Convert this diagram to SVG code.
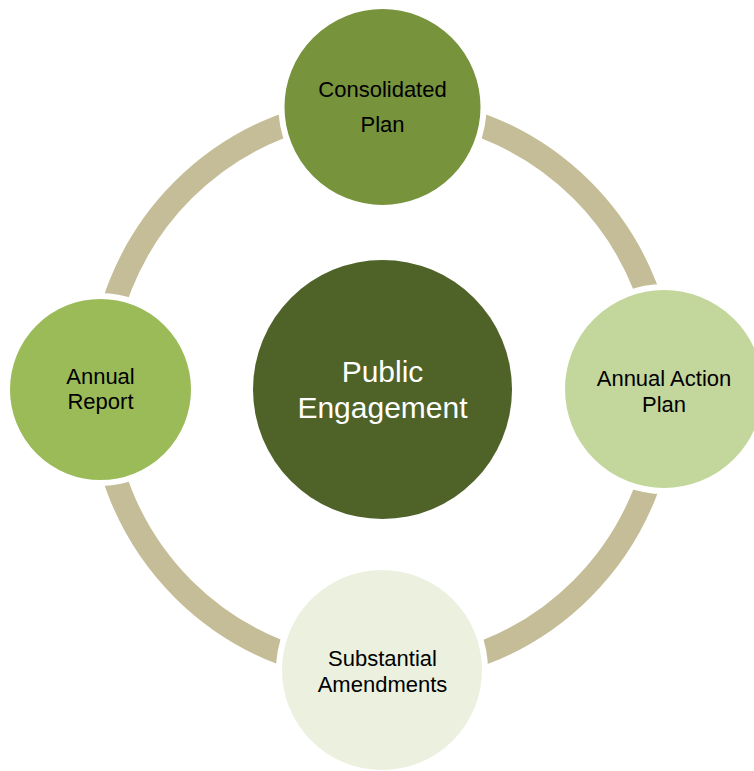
<svg xmlns="http://www.w3.org/2000/svg" width="754" height="771" viewBox="0 0 754 771">
<style>
.node{stroke:#ffffff;stroke-width:6}
.lbl{font-family:"Liberation Sans",Arial,sans-serif;font-size:22px;fill:#000000;text-anchor:middle}
.big{font-family:"Liberation Sans",Arial,sans-serif;font-size:30px;fill:#ffffff;text-anchor:middle}
</style>
<rect width="754" height="771" fill="#ffffff"/>
<g id="connectors">
<circle cx="382.5" cy="389.5" r="282" fill="none" stroke="#c4bd97" stroke-width="24"/>
</g>
<g id="center">
<circle cx="382.5" cy="389.5" r="129.5" fill="#4f6228"/>
<text class="big" x="382.5" y="382">Public</text>
<text class="big" x="382.5" y="418">Engagement</text>
</g>
<g id="consolidated-plan">
<circle class="node" cx="382.5" cy="107" r="101" fill="#77933c"/>
<text class="lbl" x="382.5" y="97">Consolidated</text>
<text class="lbl" x="382.5" y="132">Plan</text>
</g>
<g id="annual-action-plan">
<circle class="node" cx="664" cy="389" r="102" fill="#c3d69b"/>
<text class="lbl" x="664" y="386">Annual Action</text>
<text class="lbl" x="664" y="412">Plan</text>
</g>
<g id="substantial-amendments">
<circle class="node" cx="382" cy="670" r="103" fill="#ebf1de"/>
<text class="lbl" x="382.5" y="666">Substantial</text>
<text class="lbl" x="382.5" y="692">Amendments</text>
</g>
<g id="annual-report">
<circle class="node" cx="100.5" cy="389.5" r="93.5" fill="#9bbb59"/>
<text class="lbl" x="100.5" y="384">Annual</text>
<text class="lbl" x="100.5" y="409">Report</text>
</g>
</svg>
